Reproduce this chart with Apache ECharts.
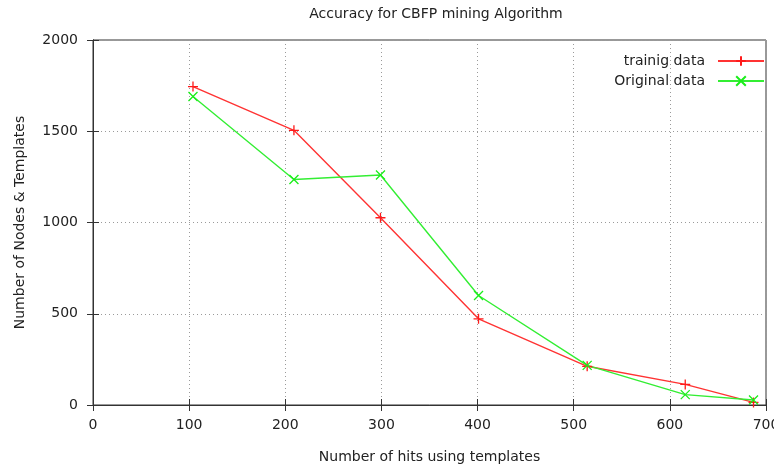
<!DOCTYPE html>
<html lang="en">
<head>
    <meta charset="utf-8">
    <title>CBFP accuracy</title>
    <script src="https://cdn.jsdelivr.net/npm/echarts@6/dist/echarts.min.js"></script>
    <style>
        html, body { margin: 0; padding: 0; background: #fff; }
        #chart { width: 774px; height: 467px; }
    </style>
</head>
<body>
<div id="chart"></div>
<script>
    // values
    var hits = [104, 209, 299, 401, 514, 616, 687];
    var trainData = [1745, 1505, 1026, 472, 212, 113, 14];
    var origData = [1690, 1236, 1260, 600, 217, 57, 27];
    var xTicks = [0, 100, 200, 300, 400, 500, 600, 700];
    var yTicks = [0, 500, 1000, 1500, 2000];

    var font = 'DejaVu Sans';
    var fs = 14;
    var txt = '#222';
    var plus = 'path://M0,5L10,5M5,0L5,10';
    var cross = 'path://M0,0L10,10M0,10L10,0';

    function pairs(xs, ys) {
        return xs.map(function (x, i) { return [x, ys[i]]; });
    }

    var chart = echarts.init(document.getElementById('chart'));

    var dotted = { show: true, lineStyle: { color: '#9a9a9a', type: [1, 3], width: 1 } };
    var tickIn = { show: true, inside: true, length: 6, lineStyle: { color: '#333' } };

    chart.setOption({
        animation: false,
        textStyle: { fontFamily: font },
        title: {
            text: 'Accuracy for CBFP mining Algorithm',
            left: 431,
            textAlign: 'center',
            top: 2,
            textStyle: { fontFamily: font, fontSize: fs, fontWeight: 'normal', color: txt }
        },
        legend: {
            orient: 'vertical',
            right: 4,
            top: 49,
            align: 'right',
            itemWidth: 46,
            itemHeight: 12,
            itemGap: 6,
            textStyle: { fontFamily: font, fontSize: fs, color: txt, padding: [0, 8, 0, 0] },
            data: ['trainig data', 'Original data']
        },
        grid: {
            left: 93, right: 8, top: 40, bottom: 62,
            outerBoundsMode: 'none',
            containLabel: false,
            show: true, borderColor: '#333', borderWidth: 1
        },
        xAxis: [{
            type: 'value', min: 0, max: 700, interval: 100,
            name: 'Number of hits using templates',
            nameLocation: 'middle', nameGap: 45,
            nameTextStyle: { fontFamily: font, fontSize: fs, color: txt },
            axisLine: { show: true, lineStyle: { color: '#333' } },
            axisTick: tickIn,
            axisLabel: {
                fontFamily: font, fontSize: fs, color: txt, margin: 13,
                formatter: function (v) { return xTicks.indexOf(v) >= 0 ? String(v) : ''; }
            },
            splitLine: dotted
        }, {
            type: 'value', min: 0, max: 700, interval: 100, position: 'top',
            axisLine: { show: true, lineStyle: { color: '#333' } },
            axisTick: tickIn, axisLabel: { show: false }, splitLine: { show: false }
        }],
        yAxis: [{
            type: 'value', min: 0, max: 2000, interval: 500,
            name: 'Number of Nodes & Templates',
            nameLocation: 'middle', nameGap: 66,
            nameTextStyle: { fontFamily: font, fontSize: fs, color: txt },
            axisLine: { show: true, lineStyle: { color: '#333' } },
            axisTick: tickIn,
            axisLabel: {
                fontFamily: font, fontSize: fs, color: txt, margin: 15,
                formatter: function (v) { return yTicks.indexOf(v) >= 0 ? String(v) : ''; }
            },
            splitLine: dotted
        }, {
            type: 'value', min: 0, max: 2000, interval: 500, position: 'right',
            axisLine: { show: true, lineStyle: { color: '#333' } },
            axisTick: tickIn, axisLabel: { show: false }, splitLine: { show: false }
        }],
        series: [
            {
                name: 'trainig data',
                type: 'line',
                data: pairs(hits, trainData),
                symbol: plus,
                symbolSize: 10,
                itemStyle: { color: '#ff1a1a', borderColor: '#ff1a1a', borderWidth: 1.3 },
                lineStyle: { color: '#ff3333', width: 1.4 }
            },
            {
                name: 'Original data',
                type: 'line',
                data: pairs(hits, origData),
                symbol: cross,
                symbolSize: 9,
                itemStyle: { color: '#1aee1a', borderColor: '#1aee1a', borderWidth: 1.3 },
                lineStyle: { color: '#33ee33', width: 1.4 }
            }
        ]
    });
</script>
</body>
</html>
